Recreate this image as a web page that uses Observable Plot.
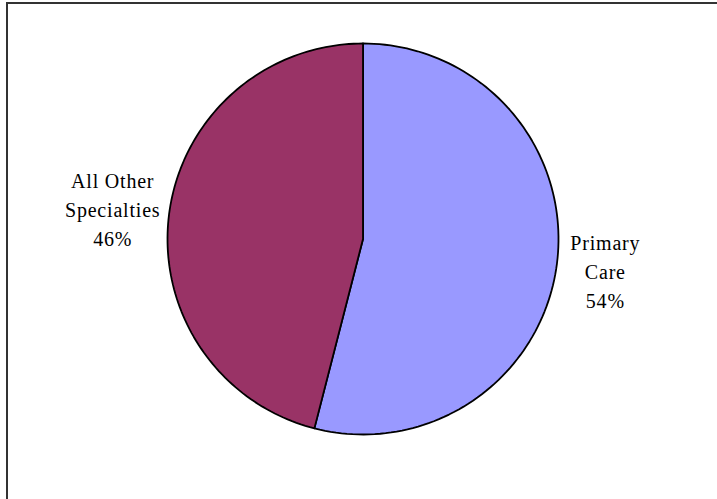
<!DOCTYPE html>
<html>
<head>
<meta charset="utf-8">
<script src="https://cdn.jsdelivr.net/npm/d3@7"></script>
<script src="https://cdn.jsdelivr.net/npm/@observablehq/plot@0.6"></script>
<style>
  html, body { margin: 0; padding: 0; background: #fff; overflow: hidden; }
  #wrap { position: relative; width: 717px; height: 499px; overflow: hidden; }
  #frame { position: absolute; left: 6px; top: 2px; width: 720px; height: 510px; border: 2px solid #333; box-sizing: border-box; pointer-events: none; }
  #chart { position: absolute; left: 0; top: 0; }
</style>
</head>
<body>
<div id="wrap"><div id="chart"></div><div id="frame"></div></div>
<script>
const categories = ["Primary Care", "All Other Specialties"];
const values = [54, 46];
const labelLines = ["Primary\nCare\n54%", "All Other\nSpecialties\n46%"];
const colors = ["#9999FF", "#993366"];

const pie = d3.pie().sort(null).value(d => d.value);
const arcs = pie(categories.map((name, i) => ({name, value: values[i], label: labelLines[i]})));

// Build wedge outlines (unit circle, angle measured clockwise from top)
const wedgePts = [];
for (const a of arcs) {
  const n = 120;
  wedgePts.push({name: a.data.name, x: 0, y: 0});
  for (let k = 0; k <= n; k++) {
    const t = a.startAngle + (a.endAngle - a.startAngle) * k / n;
    wedgePts.push({name: a.data.name, x: Math.sin(t), y: Math.cos(t)});
  }
  wedgePts.push({name: a.data.name, x: 0, y: 0});
}
const labelR = 1.27;
const labels = arcs.map(a => {
  const m = (a.startAngle + a.endAngle) / 2;
  return {name: a.data.name, text: a.data.label, x: labelR * Math.sin(m), y: labelR * Math.cos(m)};
});

const chart = Plot.plot({
  width: 717,
  height: 499,
  margin: 0,
  x: {domain: [-1, 1], range: [167, 558], axis: null},
  y: {domain: [-1, 1], range: [434, 43], axis: null},
  color: {domain: categories, range: colors},
  marks: [
    Plot.line(wedgePts, {x: "x", y: "y", z: "name", fill: "name", stroke: "#000", strokeWidth: 1.8, strokeLinejoin: "round", curve: "linear"}),
    Plot.text(labels, {x: "x", y: "y", text: "text", fill: "#000", fontSize: 20, lineHeight: 1.45, textAnchor: "middle", fontFamily: "'Liberation Serif', 'Times New Roman', serif", dx: -4})
  ]
});
chart.style.letterSpacing = "0.8px";
document.getElementById("chart").appendChild(chart);
</script>
</body>
</html>
